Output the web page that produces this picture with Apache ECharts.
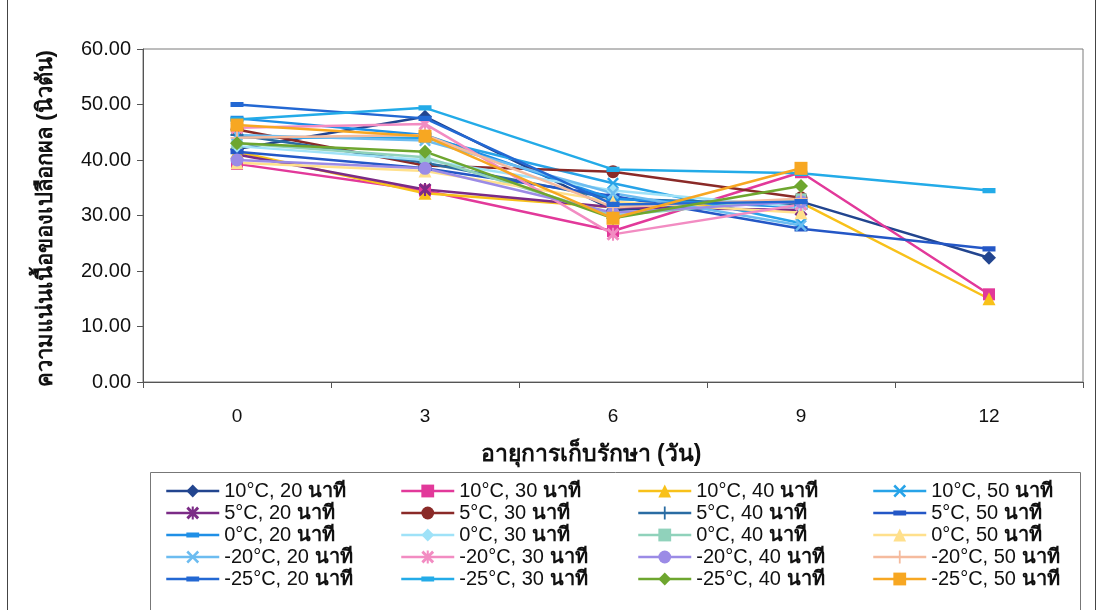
<!DOCTYPE html>
<html>
<head>
<meta charset="utf-8">
<script src="https://cdn.jsdelivr.net/npm/echarts@6/dist/echarts.min.js"></script>
<style>
  html, body { margin: 0; padding: 0; background: #fff; }
  #chart { width: 1102px; height: 610px; }
</style>
</head>
<body>
<div id="chart"></div>
<script>
// Storage time (days)
const days = ['0', '3', '6', '9', '12'];

// Peel firmness (N) per treatment: temperature, soaking time
const t10m20 = [42.0, 47.8, 31.0, 32.5, 22.4];
const t10m30 = [39.3, 34.5, 27.2, 37.8, 15.8];
const t10m40 = [41.5, 34.0, 31.5, 32.3, 15.0];
const t10m50 = [44.0, 44.0, 35.8, 28.6, null];
const t5m20 = [41.0, 34.7, 31.5, 31.0, null];
const t5m30 = [45.5, 39.0, 37.9, 33.2, null];
const t5m40 = [44.5, 39.5, 33.0, 32.0, null];
const t5m50 = [41.5, 38.5, 33.5, 27.6, 24.0];
const t0m20 = [47.5, 44.5, 33.0, 31.5, null];
const t0m30 = [42.5, 40.0, 34.5, 31.5, null];
const t0m40 = [43.0, 40.5, 30.0, 33.0, null];
const t0m50 = [39.5, 38.0, 32.5, 30.5, null];
const tn20m20 = [44.5, 43.5, 34.0, 28.2, null];
const tn20m30 = [45.8, 46.5, 26.6, 32.0, null];
const tn20m40 = [40.0, 38.5, 30.5, 32.5, null];
const tn20m50 = [44.0, 44.5, 31.5, 33.0, null];
const tn25m20 = [50.0, 47.5, 32.0, 32.5, null];
const tn25m30 = [47.3, 49.4, 38.3, 37.6, 34.5];
const tn25m40 = [43.0, 41.5, 29.5, 35.3, null];
const tn25m50 = [46.3, 44.3, 29.5, 38.5, null];

const seriesNames = [
  '10°C, 20 นาที', '10°C, 30 นาที', '10°C, 40 นาที', '10°C, 50 นาที',
  '5°C, 20 นาที', '5°C, 30 นาที', '5°C, 40 นาที', '5°C, 50 นาที',
  '0°C, 20 นาที', '0°C, 30 นาที', '0°C, 40 นาที', '0°C, 50 นาที',
  '-20°C, 20 นาที', '-20°C, 30 นาที', '-20°C, 40 นาที', '-20°C, 50 นาที',
  '-25°C, 20 นาที', '-25°C, 30 นาที', '-25°C, 40 นาที', '-25°C, 50 นาที'
];
const seriesValues = [
  t10m20, t10m30, t10m40, t10m50,
  t5m20, t5m30, t5m40, t5m50,
  t0m20, t0m30, t0m40, t0m50,
  tn20m20, tn20m30, tn20m40, tn20m50,
  tn25m20, tn25m30, tn25m40, tn25m50
];

const axisTitleY = 'ความแน่นเนื้อของเปลือกผล (นิวตัน)';
const axisTitleX = 'อายุการเก็บรักษา (วัน)';

// Marker shapes
const X_PATH = 'path://M0,1.4L1.4,0L5,3.6L8.6,0L10,1.4L6.4,5L10,8.6L8.6,10L5,6.4L1.4,10L0,8.6L3.6,5Z';
const STAR_PATH = 'path://M0,1.6L1.6,0L5,3.4L8.4,0L10,1.6L6.6,5L10,8.4L8.4,10L5,6.6L1.6,10L0,8.4L3.4,5ZM4.2,0H5.8V10H4.2Z';
const PLUS_PATH = 'path://M4.3,0H5.7V4.3H10V5.7H5.7V10H4.3V5.7H0V4.3H4.3Z';
// short thick bar; tiny corner specks keep the box square so it is not stretched
const DASH_PATH = 'path://M0,0L0.02,0L0,0.02ZM0,3H10V7H0ZM10,10L9.98,10L10,9.98Z';

const styles = [
  { color: '#22458f', symbol: 'diamond', size: 14 },
  { color: '#e2399a', symbol: 'rect', size: 12 },
  { color: '#f8c11a', symbol: 'triangle', size: 13 },
  { color: '#27a3e8', symbol: X_PATH, size: 12 },
  { color: '#7b2b86', symbol: STAR_PATH, size: 13 },
  { color: '#8a2a28', symbol: 'circle', size: 13 },
  { color: '#2a6ca3', symbol: PLUS_PATH, size: 13 },
  { color: '#2457c6', symbol: DASH_PATH, size: 13 },
  { color: '#1f8fe6', symbol: DASH_PATH, size: 13 },
  { color: '#9fe2f8', symbol: 'diamond', size: 13 },
  { color: '#90d2bb', symbol: 'rect', size: 11 },
  { color: '#ffe08c', symbol: 'triangle', size: 13 },
  { color: '#6cbcf0', symbol: X_PATH, size: 12 },
  { color: '#f28cc2', symbol: STAR_PATH, size: 13 },
  { color: '#9b8be6', symbol: 'circle', size: 13 },
  { color: '#f5bb9e', symbol: PLUS_PATH, size: 13 },
  { color: '#2368d3', symbol: DASH_PATH, size: 13 },
  { color: '#23abe8', symbol: DASH_PATH, size: 13 },
  { color: '#6ea62f', symbol: 'diamond', size: 14 },
  { color: '#f7a722', symbol: 'rect', size: 13 }
];

const FONT = '"Liberation Sans", Arial, sans-serif';

const series = seriesNames.map((name, i) => ({
  name: name,
  type: 'line',
  data: seriesValues[i],
  symbol: styles[i].symbol,
  symbolSize: styles[i].size,
  showSymbol: true,
  connectNulls: false,
  lineStyle: { color: styles[i].color, width: 2.5 },
  itemStyle: { color: styles[i].color, borderWidth: 0 },
  emphasis: { disabled: true },
  animation: false
}));

// Four legend columns, filled row by row
const legendColumns = [0, 1, 2, 3].map(c => seriesNames.filter((_, i) => i % 4 === c));
const legendLeft = [165, 400, 637, 872];

const legends = legendColumns.map((names, c) => ({
  data: names,
  orient: 'vertical',
  left: legendLeft[c],
  top: 481,
  itemWidth: 53,
  itemHeight: 16,
  itemGap: 2,
  padding: 0,
  selectedMode: false,
  lineStyle: { width: 2.5 },
  formatter: function (name) {
    const k = name.lastIndexOf(' ');
    return '{a|' + name.slice(0, k + 1) + '}{b|' + name.slice(k + 1) + '}';
  },
  textStyle: {
    color: '#111',
    rich: {
      a: { fontFamily: FONT, fontSize: 20, lineHeight: 20.3, color: '#111' },
      b: { fontFamily: FONT, fontSize: 20, lineHeight: 20.3, fontWeight: 'bold', color: '#111' }
    }
  }
}));

const chart = echarts.init(document.getElementById('chart'), null, { renderer: 'canvas' });

chart.setOption({
  backgroundColor: '#ffffff',
  animation: false,
  textStyle: { fontFamily: FONT },
  grid: {
    left: 143, right: 19, top: 49, bottom: 228,
    show: true, borderColor: '#7a7a7a', borderWidth: 1
  },
  legend: legends,
  xAxis: {
    type: 'category',
    data: days,
    boundaryGap: true,
    axisLine: { lineStyle: { color: '#555', width: 1 } },
    axisTick: { show: true, length: 6, alignWithLabel: false, lineStyle: { color: '#555' } },
    axisLabel: { color: '#111', fontSize: 19, fontFamily: FONT, margin: 25 },
    splitLine: { show: false },
    name: axisTitleX,
    nameLocation: 'middle',
    nameGap: 61,
    nameTextStyle: {
      color: '#111', fontSize: 23, fontWeight: 'bold', fontFamily: FONT,
      padding: [0, 44, 0, 0]
    }
  },
  yAxis: {
    type: 'value',
    min: 0, max: 60, interval: 10,
    axisLine: { show: true, lineStyle: { color: '#555', width: 1 } },
    axisTick: { show: true, length: 6, lineStyle: { color: '#555' } },
    axisLabel: {
      color: '#111', fontSize: 20, fontFamily: FONT, margin: 12,
      formatter: v => v.toFixed(2)
    },
    splitLine: { show: false },
    name: axisTitleY,
    nameLocation: 'middle',
    nameGap: 86,
    nameRotate: 90,
    nameTextStyle: {
      color: '#111', fontSize: 22, fontWeight: 'bold', fontFamily: FONT,
      padding: [0, 6, 0, 0]
    }
  },
  graphic: [
    // outer chart frame
    { type: 'rect', silent: true, z: -1,
      shape: { x: 7.5, y: -5, width: 1088, height: 630 },
      style: { fill: 'none', stroke: '#444', lineWidth: 1 } },
    // legend box
    { type: 'rect', silent: true, z: -1,
      shape: { x: 150.5, y: 472.5, width: 930, height: 150 },
      style: { fill: 'none', stroke: '#777', lineWidth: 1 } }
  ],
  series: series
});
</script>
</body>
</html>
